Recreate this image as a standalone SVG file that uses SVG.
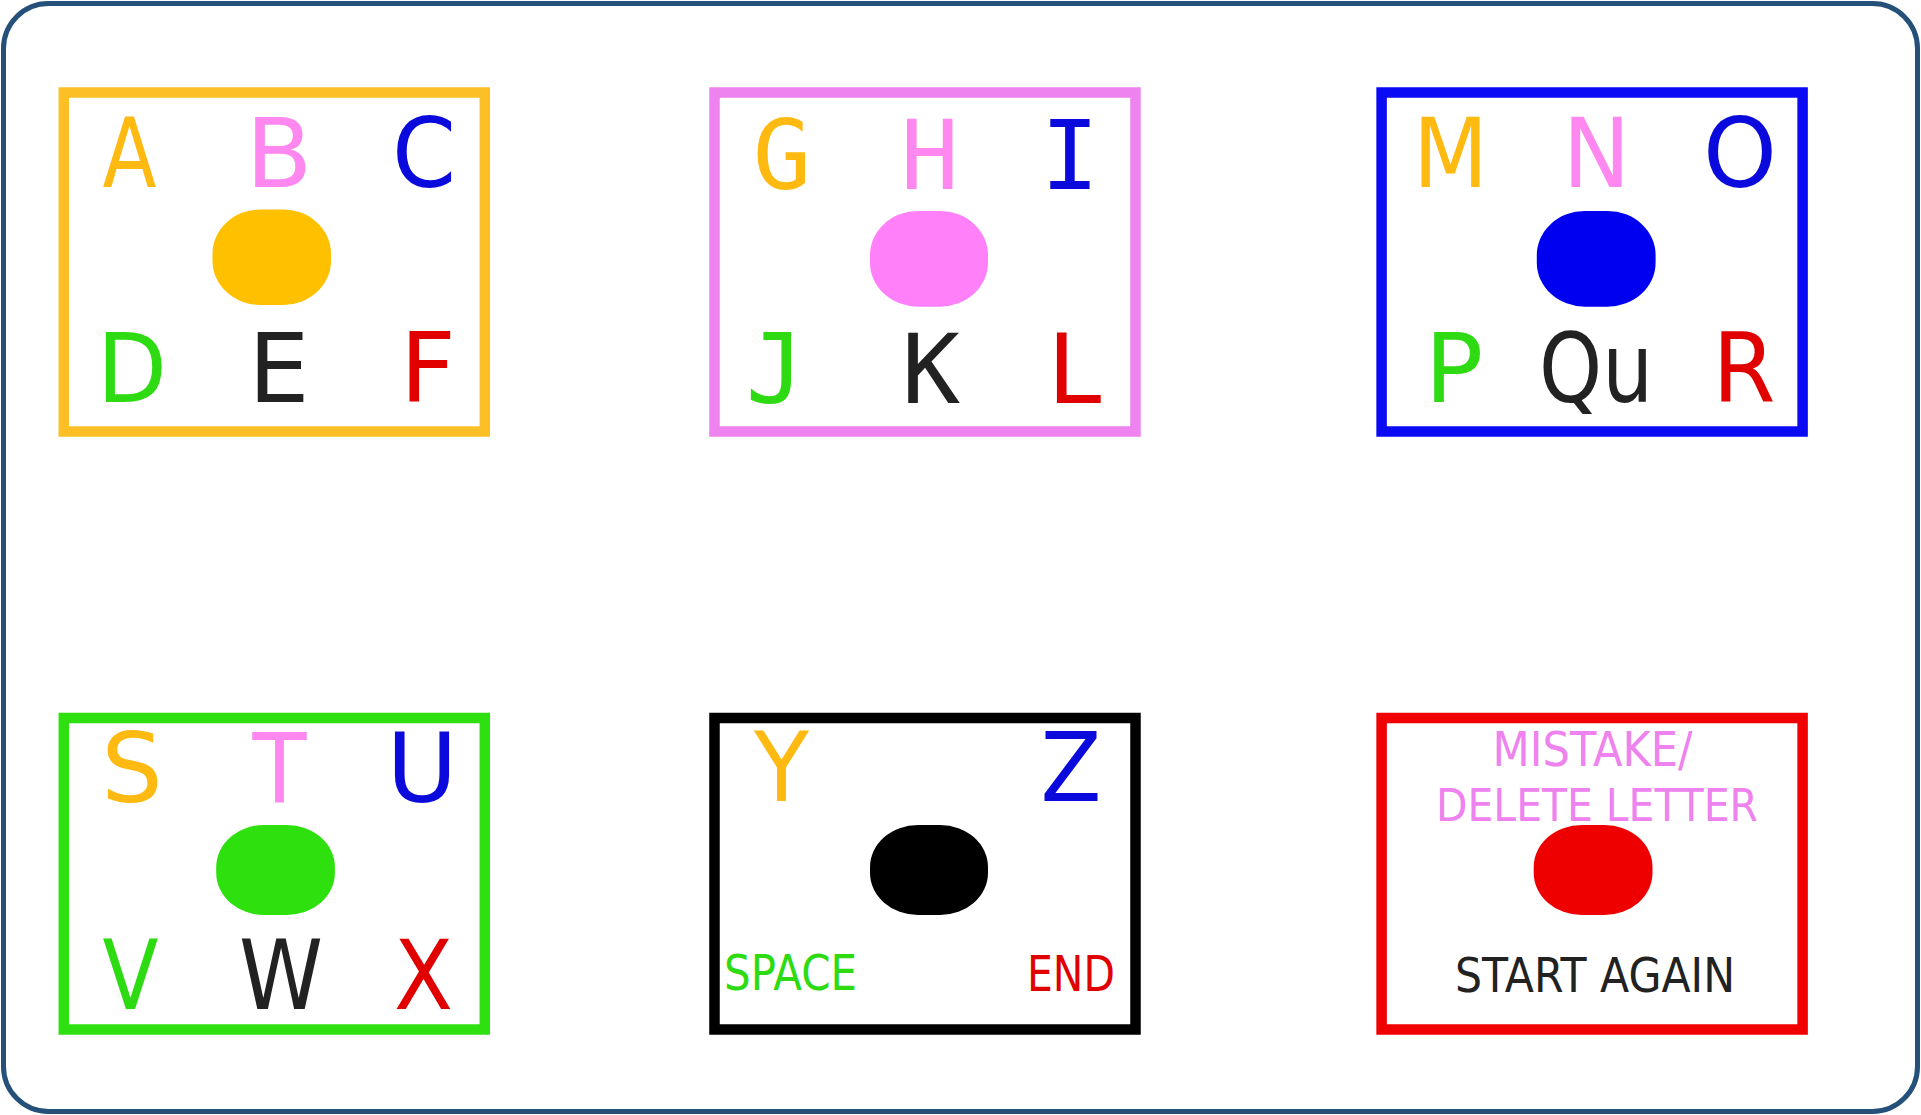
<svg xmlns="http://www.w3.org/2000/svg" width="1921" height="1115" viewBox="0 0 1921 1115">
<style>
.box{fill:#fff;stroke-width:10.5}
.big{font-family:"DejaVu Sans",Verdana,sans-serif;font-size:97px;text-anchor:middle}
.mono{font-family:"DejaVu Sans Mono",monospace;font-size:97px;text-anchor:middle}
.small{font-family:"DejaVu Sans",Tahoma,sans-serif;font-size:49px}
.o{fill:#FFBA12}.p{fill:#FF88F0}.b{fill:#0A0ADC}.g{fill:#2EDB12}.k{fill:#222}.r{fill:#E00000}
</style>
<rect x="3.5" y="3.5" width="1914" height="1108" rx="45" fill="#fff" stroke="#24507A" stroke-width="5"/>
<g id="connectors"/>
<g id="node-abc">
<rect class="box" x="63.8" y="92.5" width="421" height="339" stroke="#FDBF26"/>
<rect x="212.5" y="209.5" width="118.5" height="95.5" rx="48" ry="44" fill="#FFC000"/>
<text class="big o" x="129.5" y="187" textLength="54" lengthAdjust="spacingAndGlyphs">A</text>
<text class="big p" x="279" y="187">B</text>
<text class="big b" x="424" y="187" textLength="64" lengthAdjust="spacingAndGlyphs">C</text>
<text class="big g" x="132" y="401.7" textLength="70" lengthAdjust="spacingAndGlyphs">D</text>
<text class="big k" x="279" y="401.7">E</text>
<text class="big r" x="428" y="401.7">F</text>
</g>
<g id="node-ghi">
<rect class="box" x="714.5" y="92.5" width="421" height="339" stroke="#EE82EE"/>
<rect x="870" y="211" width="118" height="95.7" rx="48" ry="44" fill="#FF80F8"/>
<text class="mono o" x="782" y="188.5">G</text>
<text class="mono p" x="929.6" y="188.5">H</text>
<text class="mono b" x="1070" y="188.5">I</text>
<text class="mono g" x="775" y="403">J</text>
<text class="mono k" x="931" y="403">K</text>
<text class="mono r" x="1076" y="403">L</text>
</g>
<g id="node-mno">
<rect class="box" x="1381.6" y="92.5" width="421" height="339" stroke="#0A0AF5"/>
<rect x="1536.8" y="211" width="118.8" height="95.7" rx="48" ry="44" fill="#0000F0"/>
<text class="big o" x="1450.5" y="186.7" textLength="75" lengthAdjust="spacingAndGlyphs">M</text>
<text class="big p" x="1596.6" y="186.7" textLength="68" lengthAdjust="spacingAndGlyphs">N</text>
<text class="big b" x="1740" y="186.7" textLength="74" lengthAdjust="spacingAndGlyphs">O</text>
<text class="big g" x="1454" y="401.7">P</text>
<text class="big k" x="1596" y="401.7" textLength="114" lengthAdjust="spacingAndGlyphs">Qu</text>
<text class="big r" x="1744" y="401.7" textLength="63" lengthAdjust="spacingAndGlyphs">R</text>
</g>
<g id="node-stu">
<rect class="box" x="63.8" y="718" width="421" height="311.5" stroke="#2EE010"/>
<rect x="216.2" y="825" width="118.7" height="90" rx="48" ry="42" fill="#2EE00E"/>
<text class="big o" x="132" y="801.7">S</text>
<text class="big p" x="279.4" y="801.7" textLength="54" lengthAdjust="spacingAndGlyphs">T</text>
<text class="big b" x="422" y="801.7">U</text>
<text class="big g" x="130.5" y="1009.3" textLength="56" lengthAdjust="spacingAndGlyphs">V</text>
<text class="big k" x="281" y="1009.3" textLength="84" lengthAdjust="spacingAndGlyphs">W</text>
<text class="big r" x="423.5" y="1009.3" textLength="59" lengthAdjust="spacingAndGlyphs">X</text>
</g>
<g id="node-yz">
<rect class="box" x="714.5" y="718" width="421" height="311.5" stroke="#000"/>
<rect x="870" y="825" width="118" height="90" rx="48" ry="42" fill="#000"/>
<text class="big o" x="781.5" y="800.7" textLength="55" lengthAdjust="spacingAndGlyphs">Y</text>
<text class="big b" x="1071" y="800.7" textLength="61" lengthAdjust="spacingAndGlyphs">Z</text>
<text class="small g" x="724" y="990" textLength="133" lengthAdjust="spacingAndGlyphs">SPACE</text>
<text class="small r" x="1027" y="991" textLength="88" lengthAdjust="spacingAndGlyphs">END</text>
</g>
<g id="node-mistake">
<rect class="box" x="1381.6" y="718" width="421" height="311.5" stroke="#F00000"/>
<rect x="1533.7" y="825" width="118.8" height="90" rx="48" ry="42" fill="#EE0000"/>
<text class="small" x="1592.6" y="766" text-anchor="middle" textLength="200" lengthAdjust="spacingAndGlyphs" style="fill:#EE82EE;font-size:48px">MISTAKE/</text>
<text class="small" x="1597" y="820.7" text-anchor="middle" textLength="322" lengthAdjust="spacingAndGlyphs" style="fill:#EE82EE;font-size:44px">DELETE LETTER</text>
<text class="small k" x="1595" y="991.7" text-anchor="middle" textLength="280" lengthAdjust="spacingAndGlyphs" style="font-size:48px">START AGAIN</text>
</g>
</svg>
